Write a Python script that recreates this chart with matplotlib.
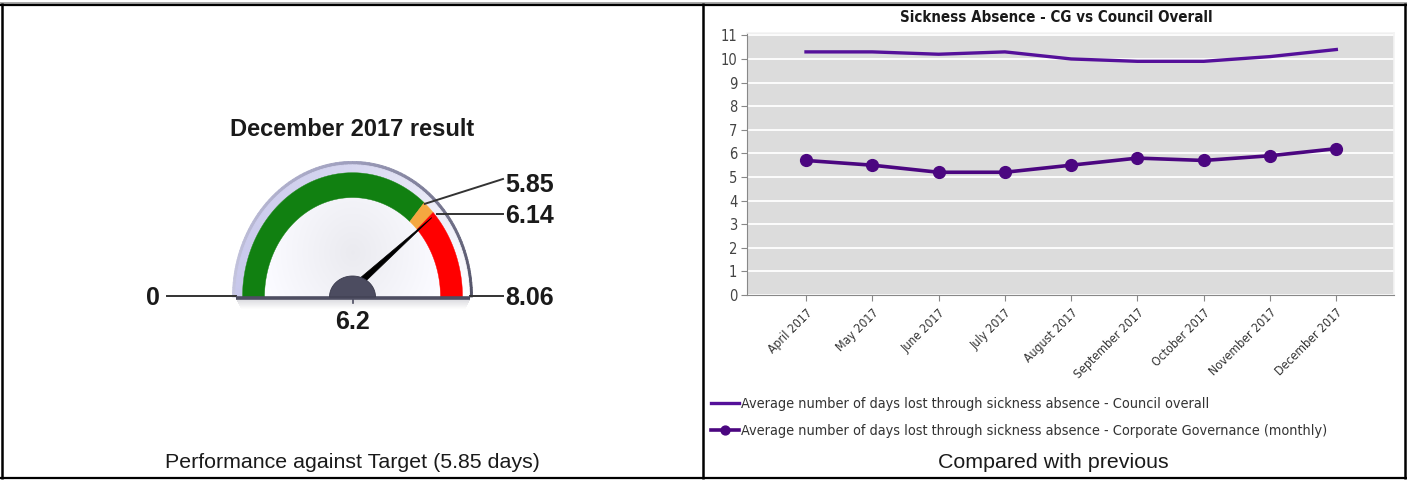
import numpy as np
import matplotlib
matplotlib.use("Agg")
import matplotlib.pyplot as plt
from matplotlib.patches import Polygon, Rectangle
from matplotlib.collections import PolyCollection

# ---- gauge data ----
gauge_min = 0.0
gauge_max = 8.06
gauge_target = 5.85
gauge_threshold = 6.14
gauge_value = 6.2
gauge_title = "December 2017 result"
gauge_caption = "Performance against Target (5.85 days)"

# ---- line chart data ----
months = ["April 2017", "May 2017", "June 2017", "July 2017", "August 2017",
          "September 2017", "October 2017", "November 2017", "December 2017"]
council_overall = [10.3, 10.3, 10.2, 10.3, 10.0, 9.9, 9.9, 10.1, 10.4]
cg_monthly = [5.7, 5.5, 5.2, 5.2, 5.5, 5.8, 5.7, 5.9, 6.2]
chart_title = "Sickness Absence - CG vs Council Overall"
council_label = "Average number of days lost through sickness absence - Council overall"
cg_label = "Average number of days lost through sickness absence - Corporate Governance (monthly)"
chart_caption = "Compared with previous"

W, H = 1407, 480
fig = plt.figure(figsize=(W / 100, H / 100), dpi=100)
fig.patch.set_facecolor("white")

# full-figure canvas in pixel units
cv = fig.add_axes([0, 0, 1, 1])
cv.set_xlim(0, W)
cv.set_ylim(H, 0)
cv.axis("off")

# table borders
cv.plot([0, W], [2.5, 2.5], color="#9a9a9a", lw=1.2, solid_capstyle="butt")
cv.plot([0, W], [4.5, 4.5], color="black", lw=1.6, solid_capstyle="butt")
cv.plot([0, W], [478, 478], color="black", lw=1.6, solid_capstyle="butt")
for xb in (2, 702.5, 1404.5):
    cv.plot([xb, xb], [3, 479], color="black", lw=1.8, solid_capstyle="butt")

# ---- gauge ----
cx, cy = 352.5, 297.0
sy = 1.13  # vertical stretch of the dial


def ang(v):
    return np.pi * (1 - (v - gauge_min) / (gauge_max - gauge_min))


def pt(a, r):
    return cx + r * np.cos(a), cy - r * sy * np.sin(a)


def ring(a0, a1, r0, r1, n=80):
    t = np.linspace(a0, a1, n)
    outer = np.column_stack(pt(t, r1))
    inner = np.column_stack(pt(t[::-1], r0))
    return np.vstack([outer, inner])


# drop shadow under the base
for i, a in enumerate(np.linspace(0.28, 0.02, 10)):
    cv.add_patch(Rectangle((236 + i * 0.5, 299 + i), 234 - i, 1.2,
                           color="#808090", alpha=a, lw=0, zorder=1))

# bezel: outer rim + graded ring, light on the left, dark on the right
tt = np.linspace(np.pi, 0, 91)
c_left_rim = np.array([0.78, 0.78, 0.88])
c_mid_rim = np.array([0.62, 0.62, 0.74])
c_right_rim = np.array([0.32, 0.32, 0.40])
c_left = np.array([0.78, 0.78, 0.92])
c_top = np.array([0.84, 0.84, 0.94])
c_right = np.array([1.0, 1.0, 1.0])
rim_polys, ring_polys, cols_rim, cols_ring = [], [], [], []
for i in range(len(tt) - 1):
    f = i / (len(tt) - 2)
    rim_polys.append(ring(tt[i], tt[i + 1], 116.5, 120.0, n=3))
    ring_polys.append(ring(tt[i], tt[i + 1], 109.5, 117, n=3))
    if f < 0.5:
        g = f / 0.5
        cols_rim.append(c_left_rim * (1 - g) + c_mid_rim * g)
        cols_ring.append(c_left * (1 - g) + c_top * g)
    else:
        g = (f - 0.5) / 0.5
        cols_rim.append(c_mid_rim * (1 - g) + c_right_rim * g)
        cols_ring.append(c_top * (1 - g) + c_right * g)
cv.add_collection(PolyCollection(rim_polys, facecolors=cols_rim, edgecolors=cols_rim, lw=0.6, zorder=2))
cv.add_collection(PolyCollection(ring_polys, facecolors=cols_ring, edgecolors=cols_ring, lw=0.6, zorder=2))

# dial face with soft radial shading
face = Polygon(ring(np.pi, 0, 0, 110, n=120), closed=True, facecolor="none", edgecolor="none")
cv.add_patch(face)
yy, xx = np.mgrid[160:300, 240:466]
d = np.sqrt(((xx - cx) / 110.0) ** 2 + ((yy - (cy - 45)) / (110.0 * sy)) ** 2)
shade = np.clip(0.92 + 0.08 * d, 0, 1)
img = np.clip(np.dstack([shade, shade, shade + 0.02]), 0, 1)
im = cv.imshow(img, extent=(240, 466, 300, 160), zorder=3, interpolation="bilinear")
im.set_clip_path(face)
cv.set_xlim(0, W)
cv.set_ylim(H, 0)

# coloured bands
bands = [(gauge_min, gauge_target, "#118011"),
         (gauge_target, gauge_threshold, "#f5a740"),
         (gauge_threshold, gauge_max, "#ff0000")]
for v0, v1, c in bands:
    cv.add_patch(Polygon(ring(ang(v0), ang(v1), 88, 110), closed=True,
                         facecolor=c, edgecolor=c, lw=0.3, zorder=4))

# base bar
cv.plot([236, 470], [297.5, 297.5], color="#4e4e62", lw=2.6, solid_capstyle="butt", zorder=5)

# needle
a = ang(gauge_value)
tip = np.array(pt(a, 106))
base = np.array([cx, cy - 8])
dirv = (tip - base) / np.linalg.norm(tip - base)
perp = np.array([-dirv[1], dirv[0]])
cv.add_patch(Polygon([base + perp * 3.5, tip, base - perp * 3.5], closed=True,
                     facecolor="black", edgecolor="black", lw=0.5, zorder=6))

# hub
th = np.linspace(np.pi, 0, 60)
hub = np.column_stack([cx + 23 * np.cos(th), cy - 21 * np.sin(th)])
cv.add_patch(Polygon(hub, closed=True, facecolor="#4c4c60", edgecolor="#3a3a4c", lw=0.6, zorder=7))
cv.plot([cx, cx], [299, 303], color="#4e4e62", lw=1.2, zorder=5)

# gauge labels and leader lines
lab_kw = dict(fontsize=18, fontweight="bold", color="#1a1a1a", family="Liberation Sans", zorder=8)
cv.plot([167, 236], [296, 296], color="#333333", lw=1.4)
cv.text(153, 298, f"{gauge_min:g}", ha="center", va="center", **lab_kw)
cv.plot([470, 503], [296, 296], color="#333333", lw=1.4)
cv.text(505, 298, f"{gauge_max:g}", ha="left", va="center", **lab_kw)
p1 = pt(ang(gauge_target), 111)
cv.plot([p1[0], 503], [p1[1] + 2, 179], color="#333333", lw=1.4, zorder=8)
cv.text(505, 185, f"{gauge_target:g}", ha="left", va="center", **lab_kw)
p2 = pt(ang(gauge_threshold), 115)
cv.plot([p2[0], 503], [214, 214], color="#333333", lw=1.4, zorder=8)
cv.text(505, 216, f"{gauge_threshold:g}", ha="left", va="center", **lab_kw)
cv.text(cx, 322, f"{gauge_value:g}", ha="center", va="center", **lab_kw)
cv.text(cx, 130, gauge_title, ha="center", va="center", fontsize=17, fontweight="bold",
        color="#1a1a1a", family="Liberation Sans")

cv.text(352, 463, gauge_caption, ha="center", va="center", fontsize=15.4,
        color="#1a1a1a", family="Liberation Sans")
cv.text(1053, 462, chart_caption, ha="center", va="center", fontsize=15.4,
        color="#1a1a1a", family="Liberation Sans")

# ---- line chart ----
L, R, T, B = 747, 1394, 33, 295
ax = fig.add_axes([L / W, 1 - B / H, (R - L) / W, (B - T) / H])
ax.set_facecolor("#dcdcdc")
x = np.arange(len(months))
ax.set_xlim(-0.89, len(months) - 1 + 0.87)
ax.set_ylim(0, 11.1)
ax.set_yticks(range(0, 12))
ax.yaxis.grid(True, color="white", lw=1.3)
ax.set_axisbelow(True)
for s in ("top", "right"):
    ax.spines[s].set_color("#f4f4f4")
    ax.spines[s].set_linewidth(1.2)
ax.spines["left"].set_color("#888888")
ax.spines["bottom"].set_color("#888888")

ax.set_xticks(x)
ax.set_xticklabels(months, rotation=45, ha="right", rotation_mode="anchor",
                   fontsize=8.8, color="#333333", family="DejaVu Sans", stretch="condensed")
for lbl in ax.get_yticklabels():
    lbl.set_fontsize(10.5)
    lbl.set_color("#444444")
    lbl.set_family("DejaVu Sans")
    lbl.set_stretch("condensed")
ax.tick_params(axis="both", colors="#888888", length=4, width=0.8, pad=3)
ax.tick_params(axis="y", labelcolor="#444444")
ax.tick_params(axis="x", labelcolor="#333333", pad=4)

h1, = ax.plot(x, council_overall, color="#55109a", lw=2.4, solid_joinstyle="round")
h2, = ax.plot(x, cg_monthly, color="#4b0680", lw=2.6, marker="o", markersize=8.5,
              solid_joinstyle="round")

fig.text(1056 / W, 1 - 18 / H, chart_title, ha="center", va="center", fontsize=10.8,
         fontweight="bold", color="#1a1a1a", family="DejaVu Sans", stretch="condensed")

leg = ax.legend([h1, h2], [council_label, cg_label], loc="upper left",
                bbox_to_anchor=(711 / W, 1 - 397 / H), bbox_transform=fig.transFigure,
                frameon=False, handlelength=1.95, handletextpad=0.1, labelspacing=0.9,
                borderpad=0, borderaxespad=0, markerscale=0.75,
                prop=dict(family="DejaVu Sans", stretch="condensed", size=10.4))
for t in leg.get_texts():
    t.set_color("#333333")

fig.savefig("out.png", dpi=100, facecolor="white")
